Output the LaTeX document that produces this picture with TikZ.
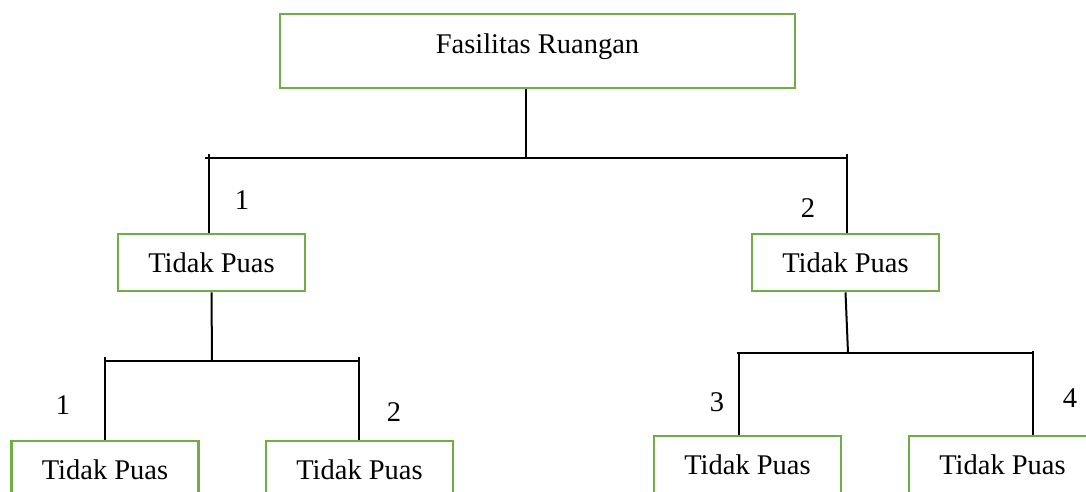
\documentclass[tikz,border=0pt]{standalone}
\usepackage{fontspec}
\setmainfont{Liberation Serif}
\definecolor{boxgreen}{HTML}{70AD47}
\begin{document}
\begin{tikzpicture}[x=1pt,y=-1pt,
  box/.style={draw=boxgreen,line width=2.6pt,minimum width=187pt,minimum height=57pt,
    inner sep=0pt,font=\fontsize{28.5}{34}\selectfont,text height=19.5pt,text depth=0pt},
  wire/.style={draw=black,line width=2pt},
  num/.style={inner sep=0pt,font=\fontsize{28.5}{34}\selectfont,text height=19pt,text depth=0pt}]
\useasboundingbox (0,0) rectangle (1086,492);
\fill[white] (0,0) rectangle (1086,492);
\clip (0,0) rectangle (1086,492);

% boxes
\node[box,minimum width=515pt,minimum height=74pt,text height=20pt,text depth=14pt]
  (root) at (537.5,51) {Fasilitas Ruangan};
\node[box] (a)  at (211.5,262.5) {Tidak Puas};
\node[box] (b)  at (845.5,262.5) {Tidak Puas};
\node[box] (a1) at (105,469.5)   {Tidak Puas};
\node[box] (a2) at (359.5,469.5) {Tidak Puas};
\node[box] (b3) at (747.5,464.5) {Tidak Puas};
\node[box] (b4) at (1002.5,464.5) {Tidak Puas};

% junction points
\coordinate (r)   at (526,158);
\coordinate (rl)  at (205,158);
\coordinate (rr)  at (848,158);
\coordinate (ta)  at (209,154);
\coordinate (tb)  at (847,154);
\coordinate (ja)  at (212,361);
\coordinate (la)  at (104,361);
\coordinate (lb)  at (359,361);
\coordinate (ta1) at (105,357);
\coordinate (ta2) at (359,357);
\coordinate (jb)  at (848,353);
\coordinate (ma)  at (737,353);
\coordinate (mb)  at (1033,353);
\coordinate (tb3) at (739,353);
\coordinate (tb4) at (1033,351);

% first level
\draw[wire] (root.south -| r) -- (r);
\draw[wire] (rl) -- (rr);
\draw[wire] (ta) -- (ta |- a.north);
\draw[wire] (tb) -- (tb |- b.north);

% second level, left
\draw[wire] (a.south) -- (ja);
\draw[wire] (la) -- (lb);
\draw[wire] (ta1) -- (ta1 |- a1.north);
\draw[wire] (ta2) -- (ta2 |- a2.north);

% second level, right
\draw[wire] (b.south) -- (jb);
\draw[wire] (ma) -- (mb);
\draw[wire] (tb3) -- (tb3 |- b3.north);
\draw[wire] (tb4) -- (tb4 |- b4.north);

% branch numbers
\node[num] (n1) at (242,200) {1};
\node[num] (n2) at (808,208) {2};
\node[num] (n3) at (63,405)  {1};
\node[num] (n4) at (394,412) {2};
\node[num] (n5) at (717,402) {3};
\node[num] (n6) at (1070,398) {4};
\end{tikzpicture}
\end{document}
